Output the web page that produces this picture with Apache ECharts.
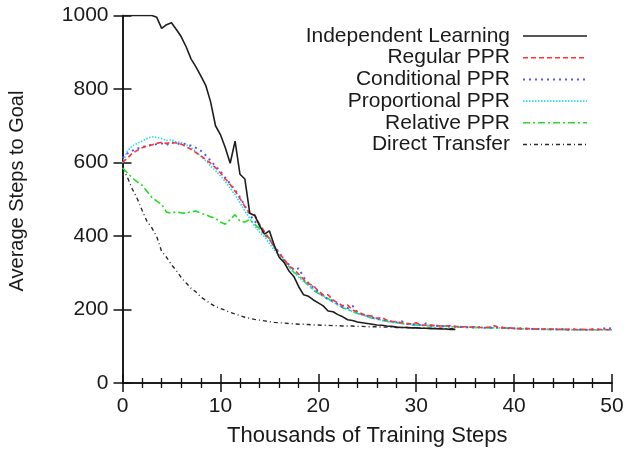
<!DOCTYPE html>
<html>
<head>
<meta charset="utf-8">
<script src="https://cdn.jsdelivr.net/npm/echarts@6/dist/echarts.min.js"></script>
<style>
  html, body { margin: 0; padding: 0; background: #fff; }
  #chart { width: 629px; height: 452px; }
</style>
</head>
<body>
<div id="chart"></div>
<script>
// Training progress, x in thousands of steps (sampled every 500 steps)
const steps = [
  0, 0.5, 1, 1.5, 2, 2.5, 3, 3.5, 4, 4.5,
  5, 5.5, 6, 6.5, 7, 7.5, 8, 8.5, 9, 9.5,
  10, 10.5, 11, 11.5, 12, 12.5, 13, 13.5, 14, 14.5,
  15, 15.5, 16, 16.5, 17, 17.5, 18, 18.5, 19, 19.5,
  20, 20.5, 21, 21.5, 22, 22.5, 23, 23.5, 24, 24.5,
  25, 25.5, 26, 26.5, 27, 27.5, 28, 28.5, 29, 29.5,
  30, 30.5, 31, 31.5, 32, 32.5, 33, 33.5, 34, 34.5,
  35, 35.5, 36, 36.5, 37, 37.5, 38, 38.5, 39, 39.5,
  40, 40.5, 41, 41.5, 42, 42.5, 43, 43.5, 44, 44.5,
  45, 45.5, 46, 46.5, 47, 47.5, 48, 48.5, 49, 49.5,
  50
];

const independentLearning = [
  1000, 1000, 1000, 1000, 1000, 1000, 1000, 995, 965, 975,
  980, 962, 942, 915, 882, 860, 836, 810, 765, 700,
  676, 640, 598, 658, 568, 555, 462, 456, 428, 405,
  414, 375, 342, 328, 305, 290, 262, 240, 236, 226,
  218, 210, 196, 194, 186, 180, 172, 170, 166, 164,
  162, 160, 158, 157, 155, 154, 152, 151, 151, 150,
  150, 149, 149, 148, 148, 147, 147, 146, 146
];

const regularPPR = [
  600, 612, 625, 633, 640, 645, 648, 652, 655, 652,
  655, 653, 650, 643, 636, 627, 618, 608, 598, 586,
  572, 556, 540, 522, 502, 480, 462, 458, 432, 412,
  392, 370, 352, 338, 318, 310, 296, 282, 270, 265,
  250, 240, 240, 226, 218, 210, 212, 198, 194, 188,
  184, 182, 176, 178, 171, 168, 167, 164, 162, 161,
  164, 158, 157, 158, 156, 155, 155, 156, 154, 153,
  153, 152, 153, 151, 151, 152, 156, 151, 150, 150,
  149, 148, 148, 148, 147, 147, 147, 146, 147, 146,
  146, 146, 146, 145, 146, 145, 146, 145, 146, 145,
  146
];

const conditionalPPR = [
  612, 625, 632, 638, 642, 645, 648, 650, 652, 648,
  655, 650, 652, 650, 646, 640, 632, 620, 605, 590,
  576, 558, 542, 525, 505, 482, 458, 440, 428, 405,
  392, 372, 355, 335, 322, 308, 312, 288, 272, 260,
  248, 236, 228, 224, 214, 206, 204, 210, 192, 186,
  183, 178, 176, 172, 170, 167, 165, 168, 161, 160,
  159, 158, 162, 156, 156, 155, 154, 154, 153, 153,
  152, 152, 151, 152, 150, 151, 150, 154, 149, 149,
  148, 148, 148, 147, 147, 147, 146, 146, 146, 146,
  146, 145, 146, 146, 145, 145, 146, 146, 147, 150,
  148
];

const proportionalPPR = [
  598, 632, 645, 652, 658, 665, 670, 668, 665, 660,
  662, 656, 654, 648, 641, 630, 617, 604, 591, 578,
  564, 548, 530, 512, 490, 468, 448, 428, 410, 398,
  380, 362, 345, 330, 315, 300, 288, 276, 266, 255,
  245, 236, 228, 220, 212, 206, 200, 195, 190, 185,
  181, 177, 174, 171, 168, 166, 164, 162, 160, 159,
  158, 157, 157, 156, 155, 155, 154, 154, 153, 153,
  152, 152, 151, 151, 151, 150, 150, 150, 149, 149,
  149, 148, 148, 148, 147, 147, 147, 146, 146, 146,
  146, 146, 145, 145, 145, 145, 145, 145, 145, 145,
  145
];

const relativePPR = [
  585, 572, 558, 547, 538, 522, 505, 495, 486, 465,
  462, 466, 463, 462, 466, 468, 462, 458, 452, 448,
  438, 432, 445, 458, 440, 438, 445, 432, 420, 402,
  395, 368, 352, 332, 318, 302, 292, 278, 266, 252,
  244, 238, 230, 220, 214, 205, 200, 194, 189, 186,
  180, 177, 174, 170, 168, 165, 164, 162, 160, 158,
  158, 157, 156, 156, 155, 154, 155, 153, 153, 152,
  152, 151, 152, 150, 151, 150, 150, 149, 150, 149,
  148, 148, 147, 147, 147, 146, 146, 146, 146, 145,
  146, 145, 145, 145, 145, 145, 145, 145, 145, 145,
  145
];

const directTransfer = [
  585, 560, 528, 502, 470, 440, 422, 398, 358, 342,
  322, 306, 287, 272, 258, 248, 234, 225, 216, 208,
  203, 198, 192, 188, 183, 179, 176, 173, 171, 169,
  167, 165, 164, 163, 162, 161, 160, 160, 159, 158,
  158, 157, 157, 156, 156, 155, 155, 155, 154, 154,
  153, 153, 153, 152, 152, 152, 151, 151, 151, 150,
  150, 150, 149, 149, 149, 149, 148, 148, 148
];

const seriesNames = [
  'Independent Learning', 'Regular PPR', 'Conditional PPR',
  'Proportional PPR', 'Relative PPR', 'Direct Transfer'
];
const xTicks = [0, 10, 20, 30, 40, 50];
const yTicks = [0, 200, 400, 600, 800, 1000];

const FONT = '"Liberation Sans", Arial, Helvetica, sans-serif';
const TEXT = '#1a1a1a';

function pairs(values) {
  return values.map((v, i) => [steps[i], v]);
}

const styles = [
  { color: '#1e1e1e', width: 1.6, type: 'solid' },
  { color: '#ff3333', width: 1.6, type: [5, 3] },
  { color: '#5555ff', width: 2, type: [2, 4] },
  { color: '#22e0f0', width: 1.6, type: [1.5, 1.5] },
  { color: '#22dd22', width: 1.6, type: [7, 3, 2, 3] },
  { color: '#2a2a2a', width: 1.4, type: [4, 3, 1, 3] }
];
const values = [independentLearning, regularPPR, conditionalPPR,
                proportionalPPR, relativePPR, directTransfer];

const series = values.map((vals, i) => ({
  name: seriesNames[i],
  type: 'line',
  xAxisIndex: 0,
  yAxisIndex: 0,
  data: pairs(vals),
  symbol: 'none',
  showSymbol: false,
  clip: true,
  lineStyle: { color: styles[i].color, width: styles[i].width, type: styles[i].type },
  itemStyle: { color: styles[i].color },
  z: 10 - i
}));

// Key in the upper-right corner: right-aligned names with a line sample after each
const KEY_TEXT_RIGHT = 510, KEY_LINE_X0 = 523, KEY_LINE_X1 = 587;
const KEY_TOP = 36, KEY_ROW = 21.7;
const keyElements = [];
seriesNames.forEach((name, i) => {
  const y = KEY_TOP + i * KEY_ROW;
  keyElements.push({
    type: 'text', silent: true,
    x: KEY_TEXT_RIGHT, y: y,
    style: {
      text: name, fill: TEXT, font: '21px ' + FONT,
      align: 'right', verticalAlign: 'middle'
    }
  });
  keyElements.push({
    type: 'line', silent: true,
    shape: { x1: KEY_LINE_X0, y1: y, x2: KEY_LINE_X1, y2: y },
    style: {
      stroke: styles[i].color, lineWidth: styles[i].width,
      lineDash: Array.isArray(styles[i].type) ? styles[i].type : null
    }
  });
});
// y axis title, rotated
keyElements.push({
  type: 'text', silent: true, x: 17, y: 191, rotation: Math.PI / 2,
  style: {
    text: 'Average Steps to Goal', fill: TEXT, font: '20px ' + FONT,
    align: 'center', verticalAlign: 'middle'
  }
});

const axisLine = { show: true, lineStyle: { color: '#111', width: 1.5 } };

const chart = echarts.init(document.getElementById('chart'), null, { renderer: 'canvas' });
chart.setOption({
  animation: false,
  backgroundColor: '#fff',
  grid: { left: 122.5, right: 17, top: 15.5, bottom: 65.5 },
  graphic: keyElements,
  xAxis: [
    {
      type: 'value', min: 0, max: 50, interval: 10,
      position: 'bottom',
      name: 'Thousands of Training Steps',
      nameLocation: 'middle', nameGap: 42,
      nameTextStyle: { fontFamily: FONT, fontSize: 22, color: TEXT },
      axisLine: axisLine,
      axisTick: { show: true, inside: true, length: 9, lineStyle: { color: '#111', width: 1.5 } },
      minorTick: { show: true, splitNumber: 5, length: 5, lineStyle: { color: '#111', width: 1.3 } },
      splitLine: { show: false },
      axisLabel: {
        fontFamily: FONT, fontSize: 21, color: TEXT, margin: 13,
        formatter: v => xTicks.includes(v) ? String(v) : ''
      }
    },
    {
      type: 'value', min: 0, max: 50, interval: 10,
      position: 'top',
      axisLine: axisLine,
      axisTick: { show: true, inside: true, length: 9, lineStyle: { color: '#111', width: 1.5 } },
      minorTick: { show: true, splitNumber: 5, length: 5, lineStyle: { color: '#111', width: 1.3 } },
      splitLine: { show: false },
      axisLabel: { show: false }
    }
  ],
  yAxis: [
    {
      type: 'value', min: 0, max: 1000, interval: 200,
      position: 'left',
      axisLine: axisLine,
      axisTick: { show: true, inside: true, length: 9, lineStyle: { color: '#111', width: 1.5 } },
      splitLine: { show: false },
      axisLabel: {
        fontFamily: FONT, fontSize: 21, color: TEXT, margin: 14,
        formatter: v => yTicks.includes(v) ? String(v) : ''
      }
    },
    {
      type: 'value', min: 0, max: 1000, interval: 200,
      position: 'right',
      axisLine: axisLine,
      axisTick: { show: true, inside: true, length: 9, lineStyle: { color: '#111', width: 1.5 } },
      splitLine: { show: false },
      axisLabel: { show: false }
    }
  ],
  series: series
});
</script>
</body>
</html>
